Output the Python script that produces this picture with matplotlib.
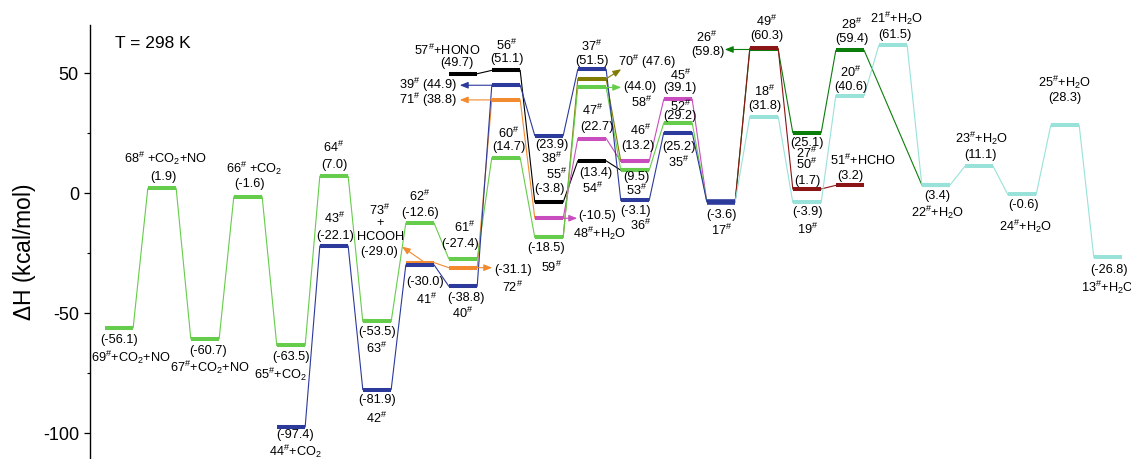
import matplotlib
matplotlib.use("Agg")
import matplotlib.pyplot as plt

plt.rcParams.update({
    "font.family": ["Liberation Sans", "DejaVu Sans"],
    "mathtext.fontset": "custom",
    "mathtext.rm": "Liberation Sans",
    "mathtext.it": "Liberation Sans:italic",
    "mathtext.bf": "Liberation Sans:bold",
    "axes.unicode_minus": False,
})

# ---------------------------------------------------------------- data
# Reaction-coordinate slot, enthalpy (kcal/mol) and species of each channel
green_slot = list(range(15))
green_dH = [-56.1, 1.9, -60.7, -1.6, -63.5, 7.0, -53.5, -12.6, -27.4, 14.7,
            -18.5, 44.0, 9.5, 29.2, -3.6]
green_names = ["69#+CO2+NO", "68# +CO2+NO", "67#+CO2+NO", "66# +CO2", "65#+CO2",
               "64#", "63#", "62#", "61#", "60#", "59#", "58#", "53#", "52#", "17#"]

blue_slot = [4, 5, 6, 7, 8, 9, 10, 11, 12, 13, 14]
blue_dH = [-97.4, -22.1, -81.9, -30.0, -38.8, 44.9, 23.9, 51.5, -3.1, 25.2, -3.6]
blue_names = ["44#+CO2", "43#", "42#", "41#", "40#", "39#", "38#", "37#",
              "36#", "35#", "17#"]

orange_slot = [7, 8, 9, 10]
orange_dH = [-29.0, -31.1, 38.8, -10.5]
orange_names = ["73#+HCOOH", "72#", "71#", "48#+H2O"]

black_slot = [8, 9, 10, 11, 12]
black_dH = [49.7, 51.1, -3.8, 13.4, 9.5]
black_names = ["57#+HONO", "56#", "55#", "54#", "53#"]

pink_slot = [10, 11, 12, 13, 14]
pink_dH = [-10.5, 22.7, 13.2, 39.1, -3.6]
pink_names = ["48#+H2O", "47#", "46#", "45#", "17#"]

olive_slot = [10, 11, 12]
olive_dH = [-18.5, 47.6, 13.2]
olive_names = ["59#", "70#", "46#"]

dkgreen_slot = [14, 15, 16, 17, 19]
dkgreen_dH = [-3.6, 59.8, 25.1, 59.4, 3.4]
dkgreen_names = ["17#", "26#", "27#", "28#", "22#+H2O"]

dkred_slot = [14, 15, 16, 17]
dkred_dH = [-3.6, 60.3, 1.7, 3.2]
dkred_names = ["17#", "49#", "50#", "51#+HCHO"]

cyan_slot = [14, 15, 16, 17, 18, 19, 20, 21, 22, 23]
cyan_dH = [-3.6, 31.8, -3.9, 40.6, 61.5, 3.4, 11.1, -0.6, 28.3, -26.8]
cyan_names = ["17#", "18#", "19#", "20#", "21#+H2O", "22#+H2O", "23#+H2O",
              "24#+H2O", "25#+H2O", "13#+H2O"]

yticks = [-100, -50, 0, 50]

# ---------------------------------------------------------------- style
C = {
    "green": "#66CC4B", "blue": "#2B3A9B", "orange": "#F28A30", "black": "#000000",
    "pink": "#C94DBE", "olive": "#807C00", "dkgreen": "#0B7D0B",
    "dkred": "#8B1414", "cyan": "#98E2DA",
}
# drawing order (later channels on top where levels coincide)
channels = [
    ("orange", orange_slot, orange_dH, orange_names),
    ("black", black_slot, black_dH, black_names),
    ("olive", olive_slot, olive_dH, olive_names),
    ("dkgreen", dkgreen_slot, dkgreen_dH, dkgreen_names),
    ("dkred", dkred_slot, dkred_dH, dkred_names),
    ("cyan", cyan_slot, cyan_dH, cyan_names),
    ("pink", pink_slot, pink_dH, pink_names),
    ("green", green_slot, green_dH, green_names),
    ("blue", blue_slot, blue_dH, blue_names),
]

# side ('a' above / 'b' below), offsets in px of value line and name line,
# horizontal shifts in px of value line and name line
label_layout = {
    "69#+CO2+NO": ("b", 12.5, 30, 0, 12),
    "68# +CO2+NO": ("a", 11.5, 30, 1, 4),
    "67#+CO2+NO": ("b", 12.5, 28.5, 3, 5),
    "66# +CO2": ("a", 13, 28.5, 2, 6),
    "65#+CO2": ("b", 11.7, 29, 0, -11),
    "44#+CO2": ("b", 8.5, 25, 4, 4),
    "64#": ("a", 11.7, 28.5, 0, 0),
    "43#": ("a", 10, 27.5, 1, 1),
    "63#": ("b", 11, 27, 0, 0),
    "42#": ("b", 10, 29, 0, 0),
    "62#": ("a", 10.7, 26.7, 0, 0),
    "41#": ("b", 17.4, 34, 5, 7),
    "61#": ("a", 14.7, 31, -3, 2),
    "40#": ("b", 11.7, 27.5, 3, 0),
    "57#+HONO": ("a", 10.4, 23.7, -6, -16),
    "60#": ("a", 11, 24.4, 3, 3),
    "56#": ("a", 11.4, 25.4, 1, 1),
    "38#": ("b", 9, 22.3, 3, 3),
    "55#": ("a", 12.7, 27.7, 1, 8),
    "59#": ("b", 10.6, 29.6, -3, 3),
    "37#": ("a", 8.6, 23.3, 0, 0),
    "47#": ("a", 12, 28, 5, 1),
    "54#": ("b", 12.3, 28, 4, 1),
    "46#": ("a", 15, 31, 3, 6),
    "53#": ("b", 6.5, 20, 1, 2),
    "36#": ("b", 10.6, 24.6, 1, 6),
    "45#": ("a", 11, 24, 2, 3),
    "52#": ("a", 6.6, 17, 2, 3),
    "35#": ("b", 14, 30, 1, 1),
    "17#": ("b", 13.4, 28.4, 1, 1),
    "49#": ("a", 12, 26.6, 3, 3),
    "18#": ("a", 11, 25.7, 1, 1),
    "27#": ("b", 10.6, 21, 0, 0),
    "50#": ("a", 8, 25, 0, 0),
    "19#": ("b", 10, 27, 1, 1),
    "28#": ("a", 11.7, 26, 2, 2),
    "20#": ("a", 8.7, 22.7, 1, 1),
    "51#+HCHO": ("a", 9, 25, 0, 13),
    "21#+H2O": ("a", 10.7, 27.3, 2, 4),
    "22#+H2O": ("b", 11, 27.7, 1, 2),
    "23#+H2O": ("a", 11, 28, 2, 3),
    "24#+H2O": ("b", 10.6, 32, 2, 4),
    "25#+H2O": ("a", 27, 42.5, 0, 0),
    "13#+H2O": ("b", 12.7, 30, 1, 0),
}

FS = 9.2
PT = 0.72        # points per pixel at 100 dpi
HW = 0.33        # half length of a level, in slots
W, H = 1131, 459

fig = plt.figure(figsize=(W / 100, H / 100), dpi=100)
ax = fig.add_axes([90 / W, 0.0, (W - 90) / W, (H - 25) / H])
ax.set_xlim(-0.674, 23.535)
ax.set_ylim(-110.8, 70)


def fmt(name):
    s = name.replace("#", r"$^{\#}$")
    return s.replace("CO2", r"CO$_2$").replace("H2O", r"H$_2$O")


def put(text, s, e, dx, dy, ha="center"):
    ax.annotate(text, xy=(s, e), xytext=(dx * PT, dy * PT),
                textcoords="offset points", ha=ha, va="center", fontsize=FS)


def arrow(s, e, dx, dy, color):
    ax.annotate("", xy=(s, e), xytext=(dx * PT, dy * PT), textcoords="offset points",
                arrowprops=dict(arrowstyle="<|-,head_length=0.55,head_width=0.22",
                                color=color, lw=0.8, shrinkA=0, shrinkB=0,
                                mutation_scale=9))


levels = {}
for key, slots, dH, names in channels:
    col = C[key]
    for k in range(len(slots) - 1):
        ax.plot([slots[k] + HW, slots[k + 1] - HW], [dH[k], dH[k + 1]],
                color=col, lw=0.8, zorder=2)
    for s, e, n in zip(slots, dH, names):
        ax.plot([s - HW, s + HW], [e, e], color=col, lw=2.9,
                solid_capstyle="butt", zorder=3)
        levels.setdefault(n, (s, e))

# common intermediate 17#
s17, e17 = levels["17#"]
ax.plot([s17 - HW, s17 + HW], [e17, e17], color=C["blue"], lw=4.0,
        solid_capstyle="butt", zorder=4)

# level labels
for name, (side, dv, dn, xv, xn) in label_layout.items():
    s, e = levels[name]
    sign = 1 if side == "a" else -1
    put(f"({e:.1f})", s, e, xv, sign * dv)
    put(fmt(name), s, e, xn, sign * dn)

# labels pointed at by arrows
for name, key in [("39#", "blue"), ("71#", "orange")]:
    s, e = levels[name]
    arrow(s - HW, e, -32, 0, C[key])
    put(f"{fmt(name)} ({e:.1f})", s - HW, e, -35, 0, ha="right")

s, e = levels["72#"]
arrow(s + HW, e, 15, 0, C["orange"])
put(f"({e:.1f})", s + HW, e, 36, -2.4)
put(fmt("72#"), s + HW, e, 35, -19.5)

s, e = levels["48#+H2O"]
arrow(s + HW, e, 14, 0, C["pink"])
put(f"({e:.1f})", s + HW, e, 34.5, 2)
put(fmt("48#+H2O"), s + HW, e, 36, -15)

s, e = levels["70#"]
arrow(s + HW, e, 15, 9.5, C["olive"])
put(f"{fmt('70#')} ({e:.1f})", s + HW, e, 12, 16.5, ha="left")

s, e = levels["58#"]
arrow(s + HW, e, 15, 0, C["green"])
put(f"({e:.1f})", s + HW, e, 34, 0.5)
put(fmt("58#"), s + HW, e, 35, -14.5)

s, e = levels["73#+HCOOH"]
arrow(s + 5 / 43, e, -23, 16, C["orange"])
put(fmt("73#"), s, e, -40, 52.6)
put("+", s, e, -40, 39.6)
put("HCOOH", s, e, -39, 25.6)
put(f"({e:.1f})", s, e, -41, 10.6)

s, e = levels["26#"]
arrow(s - HW, e, -25, 0, C["dkgreen"])
put(fmt("26#"), s - HW, e, -43, 12)
put(f"({e:.1f})", s - HW, e, -42, -2.5)

# axes
for sp in ["top", "right", "bottom"]:
    ax.spines[sp].set_visible(False)
ax.spines["left"].set_linewidth(1.0)
ax.set_xticks([])
ax.set_yticks(yticks)
ax.set_yticklabels([str(t) for t in yticks])
ax.set_yticks([-75, -25, 25], minor=True)
ax.tick_params(axis="y", which="major", length=4, width=0.9, pad=4, labelsize=13)
ax.tick_params(axis="y", which="minor", length=2.5, width=0.8)

fig.text(25 / W, 1 - 252 / H, r"$\Delta$H (kcal/mol)", rotation=90,
         ha="center", va="center", fontsize=16.5)
fig.text(115 / W, 1 - 43 / H, "T = 298 K", ha="left", va="center", fontsize=12.5)

fig.savefig("out.png", dpi=100)
